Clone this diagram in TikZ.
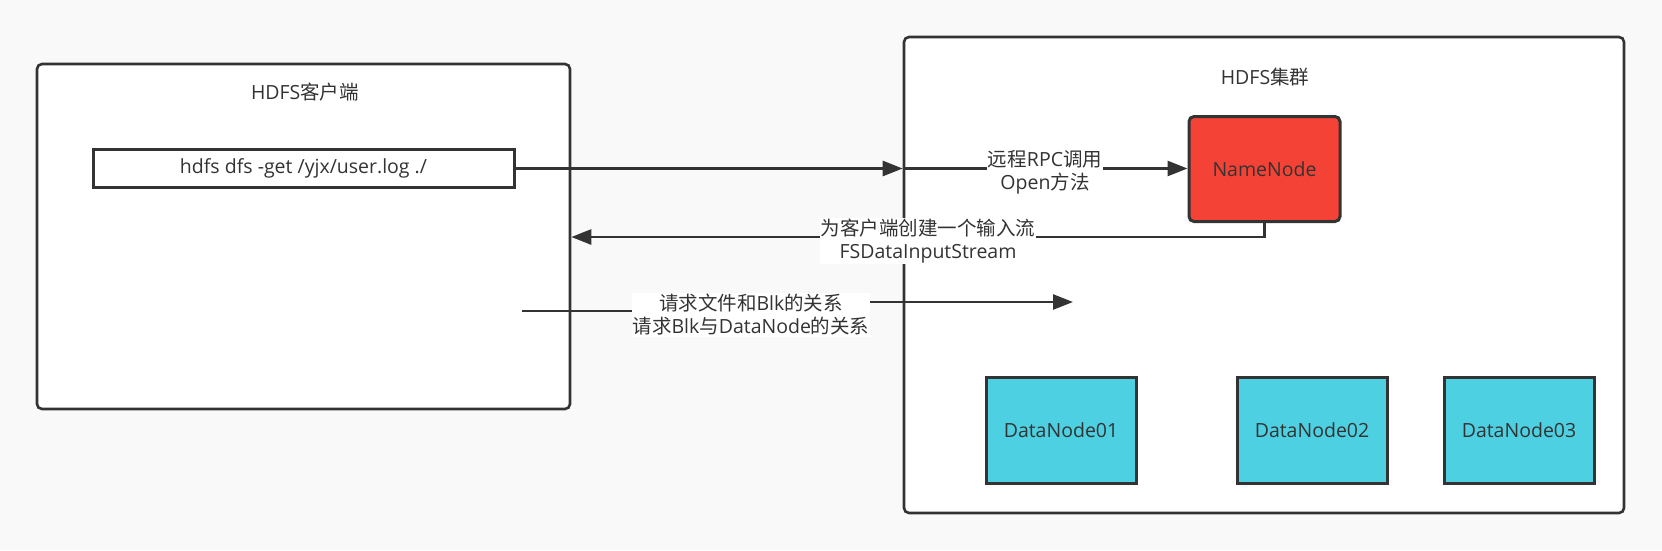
\documentclass[tikz,border=0pt]{standalone}
\usepackage{fontspec}
\setmainfont{Open Sans}
\newfontfamily\cjk{Noto Sans CJK SC}
\usetikzlibrary{arrows.meta}
\definecolor{bg}{HTML}{F9F9F9}
\definecolor{ink}{HTML}{333333}
\definecolor{nnred}{HTML}{F44336}
\definecolor{dncyan}{HTML}{4DD0E1}
\begin{document}
\begin{tikzpicture}[x=1pt,y=-1pt,
  txt/.style={font=\fontsize{19.5}{23}\selectfont, text=ink},
  frame/.style={draw=ink, line width=2.6pt, fill=white, rounded corners=5pt, inner sep=0pt},
  cmdbox/.style={draw=ink, line width=3pt, fill=white, inner sep=0pt, txt},
  nnbox/.style={draw=ink, line width=3pt, fill=nnred, rounded corners=5pt, inner sep=0pt, txt},
  dnbox/.style={draw=ink, line width=3pt, fill=dncyan, inner sep=0pt, txt,
    minimum width=150pt, minimum height=106pt},
  conn/.style={draw=ink, line width=2.6pt, -{Triangle[length=20pt,width=15pt]}},
  lbl/.style={txt, fill=white, inner sep=1pt, align=center}
]
\fill[bg] (0,0) rectangle (1662,550);
\useasboundingbox (0,0) rectangle (1662,550);

% containers
\node[frame, minimum width=533pt, minimum height=345pt] (client) at (303.5,236.5) {};
\node[txt] (clienttitle) at (305,92) {HDFS{\cjk 客户端}};
\node[frame, minimum width=720pt, minimum height=476pt] (cluster) at (1264,275) {};
\node[txt] (clustertitle) at (1265,77) {HDFS{\cjk 集群}};

% inner nodes
\node[cmdbox, minimum width=421pt, minimum height=38pt] (cmd) at (303.5,168.5) {hdfs dfs -get /yjx/user.log ./};
\node[nnbox, minimum width=151pt, minimum height=105pt] (nn) at (1264.5,169) {NameNode};
\node[dnbox] (dn1) at (1061,430) {DataNode01};
\node[dnbox] (dn2) at (1312,430) {DataNode02};
\node[dnbox] (dn3) at (1519,430) {DataNode03};

% connectors
\coordinate (c1) at (cluster.west |- cmd.east);
\draw[conn] (cmd.east) -- (c1);
\draw[conn] (c1) -- (nn.west |- c1);

\coordinate (c2) at (client.east |- 0,237);
\draw[conn] (nn.south) |- (c2);

\coordinate (s3) at (522,311);
\coordinate (e3) at (1073,302);
\draw[conn] (s3) -- (751,311) -- (751,302) -- (e3);

% labels
\node[lbl] (l1) at (1045,172) {{\cjk 远程}RPC{\cjk 调用}\\Open{\cjk 方法}};
\node[lbl] (l2) at (928,241) {{\cjk 为客户端创建一个输入流}\\FSDataInputStream};
\node[lbl] (l3) at (751,315) {{\cjk 请求文件和}Blk{\cjk 的关系}\\{\cjk 请求}Blk{\cjk 与}DataNode{\cjk 的关系}};
\end{tikzpicture}
\end{document}
